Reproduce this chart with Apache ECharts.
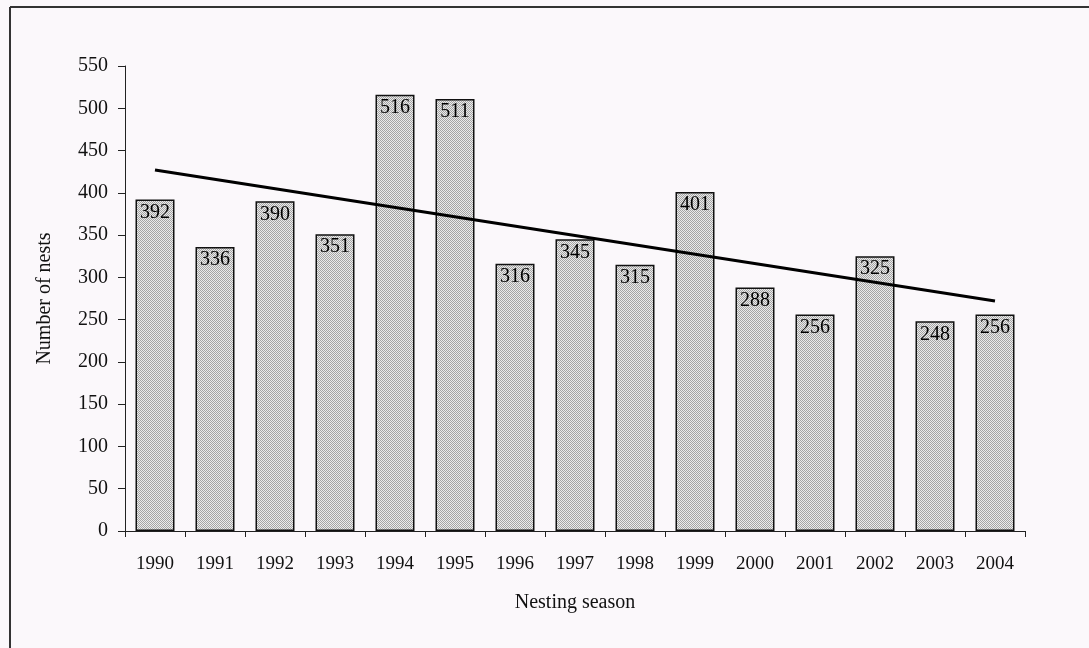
<!DOCTYPE html>
<html>
<head>
<meta charset="utf-8">
<script src="https://cdn.jsdelivr.net/npm/echarts@6/dist/echarts.min.js"></script>
<style>
  html, body { margin: 0; padding: 0; background: #fbf8fb; }
  #chart { width: 1089px; height: 648px; }
</style>
</head>
<body>
<div id="chart"></div>
<script>
// Nest counts per nesting season
const seasons = ['1990','1991','1992','1993','1994','1995','1996','1997','1998','1999','2000','2001','2002','2003','2004'];
const nests = [392, 336, 390, 351, 516, 511, 316, 345, 315, 401, 288, 256, 325, 248, 256];
// Linear trend line end points (first and last season)
const trendEnds = [427, 272];
const yTicks = { min: 0, max: 550, interval: 50 };

// Fine stippled fill for the bars
function stipple() {
  const c = document.createElement('canvas');
  c.width = 2; c.height = 2;
  const g = c.getContext('2d');
  g.fillStyle = '#ebebeb'; g.fillRect(0, 0, 2, 2);
  g.fillStyle = '#a4a4a4'; g.fillRect(0, 0, 1, 1); g.fillRect(1, 1, 1, 1);
  return c;
}

const serif = '"Liberation Serif", "DejaVu Serif", serif';
const chart = echarts.init(document.getElementById('chart'), null, { renderer: 'canvas' });

chart.setOption({
  backgroundColor: '#fbf8fb',
  animation: false,
  textStyle: { fontFamily: serif, color: '#111' },
  graphic: [
    { type: 'line', shape: { x1: 10, y1: 7, x2: 1089, y2: 7 }, style: { stroke: '#333', lineWidth: 2 } },
    { type: 'line', shape: { x1: 10, y1: 7, x2: 10, y2: 648 }, style: { stroke: '#333', lineWidth: 2 } }
  ],
  grid: { left: 125, right: 64, top: 66, bottom: 117 },
  xAxis: {
    type: 'category',
    data: seasons,
    name: 'Nesting season',
    nameLocation: 'middle',
    nameGap: 62,
    nameTextStyle: { fontFamily: serif, fontSize: 20, color: '#111' },
    axisLine: { lineStyle: { color: '#222', width: 1 } },
    axisTick: { show: true, length: 6, inside: false, lineStyle: { color: '#222' } },
    axisLabel: { fontFamily: serif, fontSize: 19, color: '#111', margin: 24 }
  },
  yAxis: {
    type: 'value',
    min: yTicks.min, max: yTicks.max, interval: yTicks.interval,
    name: 'Number of nests',
    nameLocation: 'middle',
    nameGap: 70,
    nameRotate: 90,
    nameTextStyle: { fontFamily: serif, fontSize: 20, color: '#111' },
    axisLine: { show: true, lineStyle: { color: '#222', width: 1 } },
    axisTick: { show: true, length: 7, lineStyle: { color: '#222' } },
    axisLabel: { fontFamily: serif, fontSize: 20, color: '#111', margin: 17 },
    splitLine: { show: false }
  },
  series: [
    {
      type: 'bar',
      data: nests,
      barWidth: '65%',
      itemStyle: {
        color: { image: stipple(), repeat: 'repeat' },
        borderColor: '#111',
        borderWidth: 1.5
      },
      label: {
        show: true,
        position: 'insideTop',
        distance: 3,
        fontFamily: serif,
        fontSize: 20,
        color: '#000'
      },
      z: 2
    },
    {
      type: 'line',
      data: [[seasons[0], trendEnds[0]], [seasons[seasons.length - 1], trendEnds[1]]],
      symbol: 'none',
      lineStyle: { color: '#000', width: 3 },
      z: 3
    }
  ]
});
</script>
</body>
</html>
